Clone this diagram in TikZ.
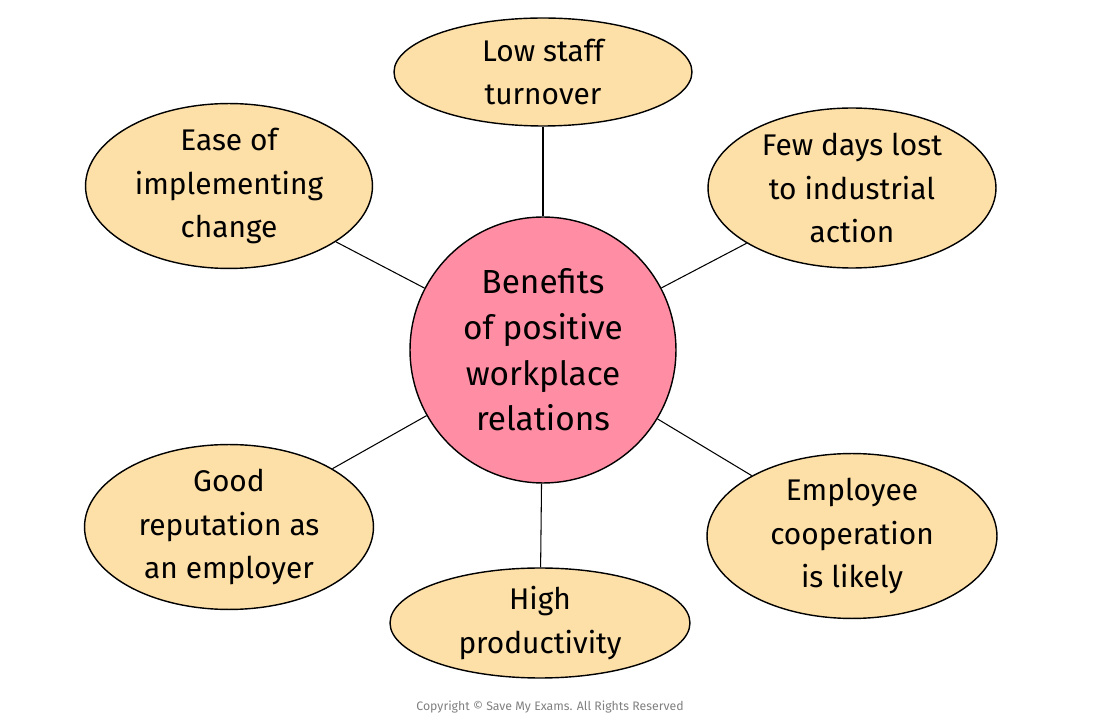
\documentclass[tikz,border=0pt]{standalone}
\usepackage{fontspec}
\setmainfont{Fira Sans}
\usetikzlibrary{positioning,shapes.geometric}
\definecolor{petal}{HTML}{FDDFA8}
\definecolor{hub}{HTML}{FF8DA3}
\tikzset{
benefit/.style={
  ellipse,
  draw=black,
  fill=petal,
  line width=0.8pt,
  align=center,
  font=\fontsize{17}{25}\selectfont,
  inner sep=0pt
  },
spoke/.style={
  draw=black,
  line width=0.6pt
  }
}

\begin{document}
\begin{tikzpicture}[x=0.02cm,y=-0.02cm]

\useasboundingbox (0,0) rectangle (1100,719);

\node[circle,draw=black,fill=hub,line width=0.8pt,minimum size=5.32cm,
  align=center,font=\fontsize{19}{26}\selectfont]
at (543,350) (hub)
{Benefits\\of positive\\workplace\\relations};

\node[benefit,minimum width=5.96cm,minimum height=2.16cm]
at (543,72) (staff)
{Low staff\\turnover};

\node[benefit,minimum width=5.74cm,minimum height=3.2cm]
at (229,186) (change)
{Ease of\\implementing\\change};

\node[benefit,minimum width=5.76cm,minimum height=3.2cm]
at (852,188) (action)
{Few days lost\\to industrial\\action};

\node[benefit,minimum width=5.78cm,minimum height=3.2cm]
at (229,527) (reput)
{Good\\reputation as\\an employer};

\node[benefit,minimum width=5.8cm,minimum height=3.2cm]
at (852,536) (coop)
{Employee\\cooperation\\is likely};

\node[benefit,minimum width=6cm,minimum height=2.2cm]
at (540,623) (prod)
{High\\productivity};

\foreach \target in {staff,change,action,reput,coop,prod}
  \draw[spoke] (hub) -- (\target);

\node[text=gray,font=\fontsize{7}{8}\selectfont] at (550,707) (copy)
{Copyright © Save My Exams. All Rights Reserved};

\end{tikzpicture}
\end{document}
